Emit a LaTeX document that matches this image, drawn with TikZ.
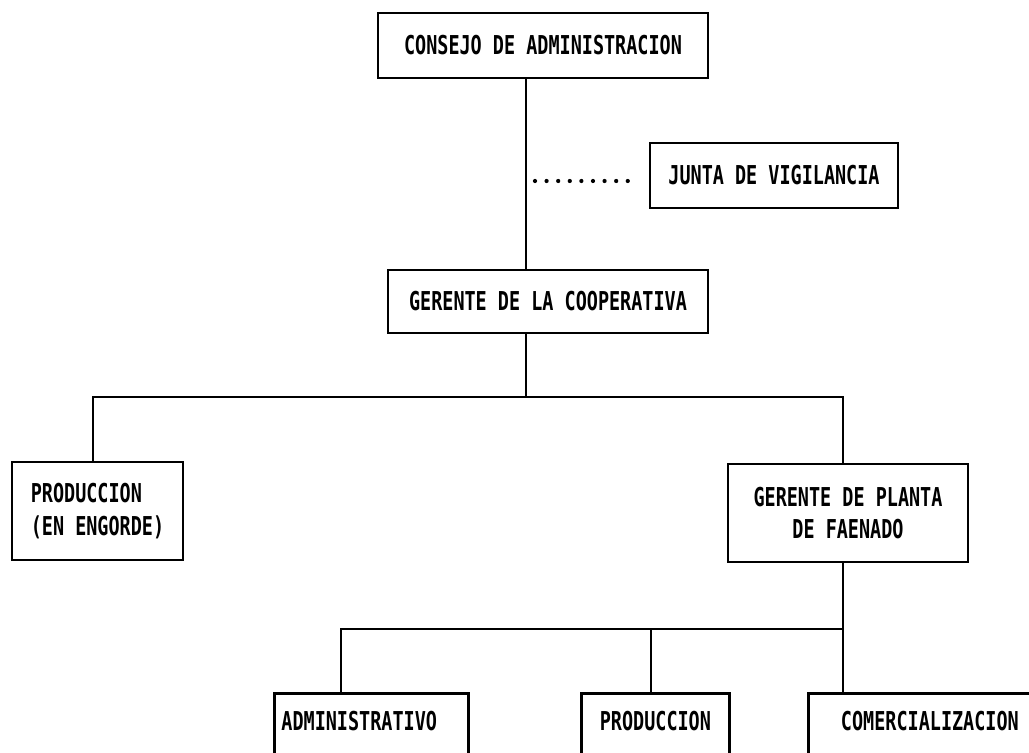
\documentclass[tikz,border=0pt]{standalone}
\usepackage{fontspec}
\usepackage{tikz}
\newfontfamily\chartfont{DejaVu Sans Mono}[FakeStretch=0.71]
\newdimen\px \px=0.02cm

\tikzset{
  orgbox/.style={draw, line width=1.6pt, inner sep=0pt,
    font=\chartfont\bfseries\fontsize{14.8pt}{18.7pt}\selectfont},
  lowbox/.style={orgbox, anchor=north west, inner xsep=7\px, inner ysep=0pt,
    text height=37.5\px, text depth=100\px},
  link/.style={line width=1.6pt},
  dots/.style={line width=2.4pt, line cap=round, dash pattern=on 0pt off 6.6pt}
}

\begin{document}
\begin{tikzpicture}[x=0.02cm, y=-0.02cm]
\useasboundingbox (0,0) rectangle (1029,753);

\coordinate (spine)     at (526,0); % main vertical line
\coordinate (leftdrop)  at (93,0);
\coordinate (rightdrop) at (843,0);
\coordinate (admdrop)   at (341,0);
\coordinate (proddrop)  at (651,0);
\coordinate (topbar)    at (0,397);
\coordinate (lowbar)    at (0,629);
%

% upper boxes
\node[orgbox, minimum width=330\px, minimum height=65\px] (consejo) at (543,45.5) {CONSEJO DE ADMINISTRACION};
\node[orgbox, minimum width=248\px, minimum height=65\px] (junta) at (774,175.5) {JUNTA DE VIGILANCIA};
\node[orgbox, minimum width=320\px, minimum height=63\px] (gerente) at (548,301.5) {GERENTE DE LA COOPERATIVA};

% middle boxes
\node[orgbox, minimum width=171\px, minimum height=98\px, align=left] (engorde) at (97.5,511) {PRODUCCION\\(EN ENGORDE)};
\node[orgbox, minimum width=240\px, minimum height=98\px, align=center] (planta) at (848,513) {GERENTE DE PLANTA\\DE FAENADO};

% lower boxes (cut by the page)
\node[lowbox, text width=180\px, align=left] (admin) at (273,692) {ADMINISTRATIVO};
\node[lowbox, text width=134\px, align=center] (prod) at (580,692) {PRODUCCION};
\node[lowbox, text width=229\px, align=center] (comerc) at (807,692) {COMERCIALIZACION};

% lines
\draw[link] (spine |- consejo.south) -- (spine |- gerente.north);
\coordinate (dotstart) at (535,181);
\coordinate (dotend)   at (629,181);
\draw[dots] (dotstart) -- (dotend);

\draw[link] (spine |- gerente.south) -- (spine |- topbar);
\draw[link] (leftdrop |- engorde.north) -- (leftdrop |- topbar) -- (rightdrop |- topbar) -- (rightdrop |- planta.north);

\draw[link] (rightdrop |- planta.south) -- (rightdrop |- comerc.north);
\draw[link] (admdrop |- admin.north) -- (admdrop |- lowbar) -- (rightdrop |- lowbar);
\draw[link] (proddrop |- lowbar) -- (proddrop |- prod.north);
\end{tikzpicture}
\end{document}
